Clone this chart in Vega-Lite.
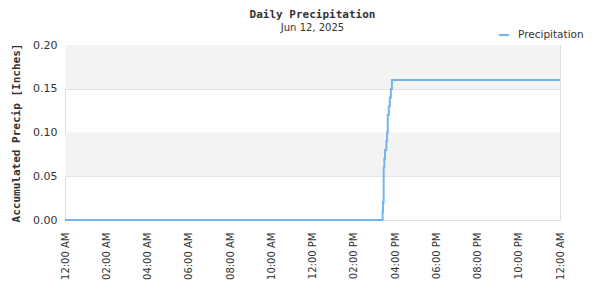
{
  "$schema": "https://vega.github.io/schema/vega-lite/v6.json",
  "autosize": {"type": "none"},
  "padding": {"left": 65, "top": 45, "right": 40, "bottom": 80},
  "width": 495,
  "height": 175,
  "background": "white",
  "title": {
    "text": "Daily Precipitation",
    "subtitle": "Jun 12, 2025",
    "font": "DejaVu Sans Mono",
    "fontSize": 11,
    "fontWeight": "bold",
    "color": "#333333",
    "subtitleFont": "DejaVu Sans",
    "subtitleFontSize": 10,
    "subtitleColor": "#333333",
    "subtitlePadding": 3,
    "anchor": "middle",
    "offset": -4
  },
  "config": {
    "view": {"stroke": "#dddddd"},
    "axis": {"labelFont": "DejaVu Sans", "labelFontSize": 11, "labelColor": "#333333"}
  },
  "datasets": {
    "bands": [{"lo": 0.05, "hi": 0.10}, {"lo": 0.15, "hi": 0.20}],
    "precip": [
      {"time": "2025-06-12T00:00:00", "value": 0},
      {"time": "2025-06-12T15:22:00", "value": 0},
      {"time": "2025-06-12T15:24:00", "value": 0.01},
      {"time": "2025-06-12T15:25:00", "value": 0.02},
      {"time": "2025-06-12T15:27:00", "value": 0.06},
      {"time": "2025-06-12T15:29:00", "value": 0.07},
      {"time": "2025-06-12T15:31:00", "value": 0.08},
      {"time": "2025-06-12T15:35:00", "value": 0.09},
      {"time": "2025-06-12T15:37:00", "value": 0.10},
      {"time": "2025-06-12T15:39:00", "value": 0.12},
      {"time": "2025-06-12T15:42:00", "value": 0.13},
      {"time": "2025-06-12T15:45:00", "value": 0.14},
      {"time": "2025-06-12T15:48:00", "value": 0.15},
      {"time": "2025-06-12T15:51:00", "value": 0.16},
      {"time": "2025-06-13T00:00:00", "value": 0.16}
    ]
  },
  "layer": [
    {
      "data": {"name": "bands"},
      "mark": {"type": "rect", "color": "#f3f3f3"},
      "encoding": {
        "y": {"field": "lo", "type": "quantitative", "scale": {"domain": [0, 0.2]}},
        "y2": {"field": "hi"}
      }
    },
    {
      "data": {"name": "precip"},
      "mark": {"type": "line", "interpolate": "step-after", "strokeWidth": 2},
      "encoding": {
        "x": {
          "field": "time",
          "type": "temporal",
          "scale": {"domain": [{"year": 2025, "month": 6, "date": 12}, {"year": 2025, "month": 6, "date": 13}]},
          "axis": {
            "title": null,
            "format": "%I:%M %p",
            "values": [
              {"year": 2025, "month": 6, "date": 12, "hours": 0},
              {"year": 2025, "month": 6, "date": 12, "hours": 2},
              {"year": 2025, "month": 6, "date": 12, "hours": 4},
              {"year": 2025, "month": 6, "date": 12, "hours": 6},
              {"year": 2025, "month": 6, "date": 12, "hours": 8},
              {"year": 2025, "month": 6, "date": 12, "hours": 10},
              {"year": 2025, "month": 6, "date": 12, "hours": 12},
              {"year": 2025, "month": 6, "date": 12, "hours": 14},
              {"year": 2025, "month": 6, "date": 12, "hours": 16},
              {"year": 2025, "month": 6, "date": 12, "hours": 18},
              {"year": 2025, "month": 6, "date": 12, "hours": 20},
              {"year": 2025, "month": 6, "date": 12, "hours": 22},
              {"year": 2025, "month": 6, "date": 13, "hours": 0}
            ],
            "labelAngle": 270,
            "labelAlign": "right",
            "labelBaseline": "middle",
            "labelFontSize": 10,
            "labelPadding": 12,
            "grid": false,
            "ticks": false,
            "domain": false,
            "labelOverlap": false
          }
        },
        "y": {
          "field": "value",
          "type": "quantitative",
          "scale": {"domain": [0, 0.2]},
          "axis": {
            "title": "Accumulated Precip [Inches]",
            "titleFont": "DejaVu Sans Mono",
            "titleFontSize": 11,
            "titleFontWeight": "bold",
            "titleColor": "#333333",
            "titlePadding": 11,
            "values": [0, 0.05, 0.1, 0.15, 0.2],
            "format": ".2f",
            "grid": true,
            "gridColor": "#e0e0e0",
            "ticks": false,
            "domain": false,
            "labelPadding": 8
          }
        },
        "color": {
          "datum": "Precipitation",
          "type": "nominal",
          "scale": {"range": ["#74b4f2"]},
          "legend": {
            "title": null,
            "orient": "none",
            "legendX": 433,
            "legendY": -16,
            "symbolType": "stroke",
            "symbolStrokeWidth": 2,
            "symbolSize": 100,
            "labelOffset": 8,
            "labelFont": "DejaVu Sans",
            "labelFontSize": 10.5,
            "labelColor": "#333333"
          }
        }
      }
    }
  ]
}
